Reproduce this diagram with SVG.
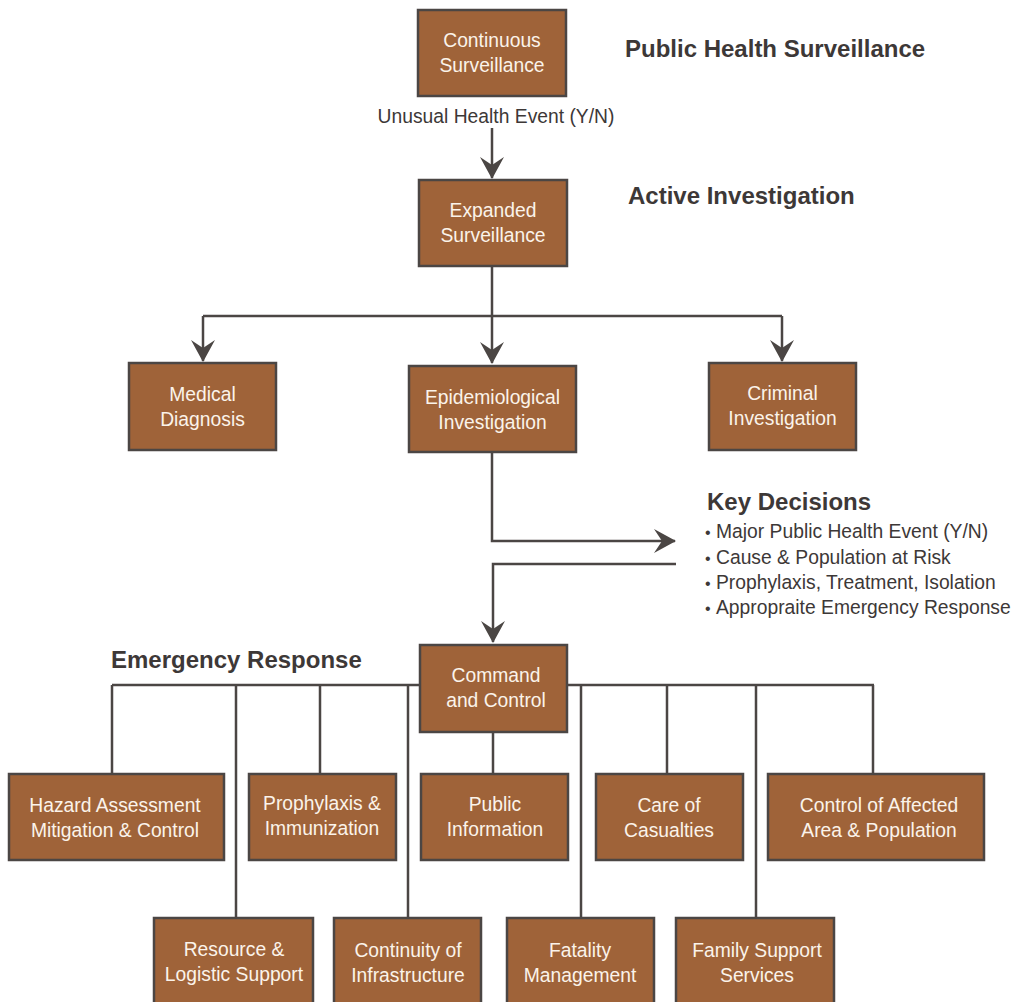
<svg xmlns="http://www.w3.org/2000/svg" width="1016" height="1002" viewBox="0 0 1016 1002">
<style>
.box{fill:#9f6339;stroke:#4b4644;stroke-width:2.5}
.bt{font-family:"Liberation Sans",Arial,sans-serif;font-size:19.3px;fill:#fbf3ea;text-anchor:middle}
.h{font-family:"Liberation Sans",Arial,sans-serif;font-size:24px;font-weight:bold;fill:#3d3837}
.t{font-family:"Liberation Sans",Arial,sans-serif;font-size:19.3px;fill:#3d3837}
.b{font-size:16px}
.ln{fill:none;stroke:#4b4644;stroke-width:2.5}
.ar{fill:none;stroke:#4b4644;stroke-width:2.5;marker-end:url(#ah)}
</style>
<defs>
<marker id="ah" markerUnits="userSpaceOnUse" markerWidth="22" markerHeight="24" viewBox="0 0 22 24" refX="21" refY="12" orient="auto">
<path d="M0,0 L22,12 L0,24 L8,12 z" fill="#4b4644"/>
</marker>
</defs>
<rect width="1016" height="1002" fill="#ffffff"/>
<g id="labels">
<text class="h" x="625" y="57">Public Health Surveillance</text>
<text class="h" x="628" y="204">Active Investigation</text>
<text class="t" x="496" y="123" text-anchor="middle">Unusual Health Event (Y/N)</text>
<text class="h" x="707" y="510">Key Decisions</text>
<text class="t" y="538"><tspan class="b" x="705">•</tspan><tspan x="716">Major Public Health Event (Y/N)</tspan></text>
<text class="t" y="564"><tspan class="b" x="705">•</tspan><tspan x="716">Cause &amp; Population at Risk</tspan></text>
<text class="t" y="589"><tspan class="b" x="705">•</tspan><tspan x="716">Prophylaxis, Treatment, Isolation</tspan></text>
<text class="t" y="614"><tspan class="b" x="705">•</tspan><tspan x="716">Appropraite Emergency Response</tspan></text>
<text class="h" x="111" y="668">Emergency Response</text>
</g>
<g id="connectors">
<path class="ar" d="M492,128 L492,178"/>
<path class="ln" d="M203,316 L782,316"/>
<path class="ar" d="M492,266 L492,363"/>
<path class="ar" d="M203,316 L203,361"/>
<path class="ar" d="M782,316 L782,361"/>
<path class="ar" d="M492,452 L492,541 L675,541"/>
<path class="ar" d="M676,564 L493,564 L493,642"/>
<path class="ln" d="M112,685 L874,685"/>
<path class="ln" d="M112,685 L112,774 M236,685 L236,918 M320,685 L320,774 M408,685 L408,918 M493,732 L493,774 M581,685 L581,918 M667,685 L667,774 M756,685 L756,918 M873,685 L873,774"/>
</g>
<g id="continuous-surveillance"><rect class="box" x="418" y="10" width="148" height="86"/><text class="bt" x="492" y="47">Continuous</text><text class="bt" x="492" y="72">Surveillance</text></g>
<g id="expanded-surveillance"><rect class="box" x="419" y="180" width="148" height="86"/><text class="bt" x="493" y="217">Expanded</text><text class="bt" x="493" y="242">Surveillance</text></g>
<g id="medical-diagnosis"><rect class="box" x="129" y="363" width="147" height="87"/><text class="bt" x="202.5" y="401">Medical</text><text class="bt" x="202.5" y="426">Diagnosis</text></g>
<g id="epidemiological-investigation"><rect class="box" x="409" y="366" width="167" height="86"/><text class="bt" x="492.5" y="404">Epidemiological</text><text class="bt" x="492.5" y="429">Investigation</text></g>
<g id="criminal-investigation"><rect class="box" x="709" y="363" width="147" height="87"/><text class="bt" x="782.5" y="400">Criminal</text><text class="bt" x="782.5" y="425">Investigation</text></g>
<g id="command-and-control"><rect class="box" x="420" y="645" width="147" height="87"/><text class="bt" x="496" y="682">Command</text><text class="bt" x="496" y="707">and Control</text></g>
<g id="hazard-assessment"><rect class="box" x="9" y="774" width="215" height="86"/><text class="bt" x="115" y="812">Hazard Assessment</text><text class="bt" x="115" y="837">Mitigation &amp; Control</text></g>
<g id="prophylaxis"><rect class="box" x="249" y="774" width="147" height="86"/><text class="bt" x="322" y="810">Prophylaxis &amp;</text><text class="bt" x="322" y="835">Immunization</text></g>
<g id="public-information"><rect class="box" x="421" y="774" width="147" height="86"/><text class="bt" x="495" y="811">Public</text><text class="bt" x="495" y="836">Information</text></g>
<g id="care-of-casualties"><rect class="box" x="596" y="774" width="147" height="86"/><text class="bt" x="669" y="812">Care of</text><text class="bt" x="669" y="837">Casualties</text></g>
<g id="control-of-affected-area"><rect class="box" x="768" y="774" width="216" height="86"/><text class="bt" x="879" y="812">Control of Affected</text><text class="bt" x="879" y="837">Area &amp; Population</text></g>
<g id="resource-logistic-support"><rect class="box" x="154" y="918" width="159" height="88"/><text class="bt" x="234" y="956">Resource &amp;</text><text class="bt" x="234" y="981">Logistic Support</text></g>
<g id="continuity-of-infrastructure"><rect class="box" x="334" y="918" width="147" height="88"/><text class="bt" x="408" y="957">Continuity of</text><text class="bt" x="408" y="982">Infrastructure</text></g>
<g id="fatality-management"><rect class="box" x="507" y="918" width="147" height="88"/><text class="bt" x="580" y="957">Fatality</text><text class="bt" x="580" y="982">Management</text></g>
<g id="family-support-services"><rect class="box" x="676" y="918" width="158" height="88"/><text class="bt" x="757" y="957">Family Support</text><text class="bt" x="757" y="982">Services</text></g>
</svg>
